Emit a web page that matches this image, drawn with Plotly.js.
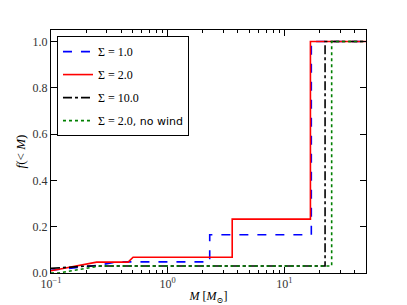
<!DOCTYPE html>
<html>
<head>
<meta charset="utf-8">
<script src="https://cdn.plot.ly/plotly-3.0.1.min.js"></script>
<style>html,body{margin:0;padding:0;background:#fff;}</style>
</head>
<body>
<div id="chart" style="width:407px;height:305px;"></div>
<script>
// Sigma = 1.0
const blueM = [0.1, 0.25, 0.37, 2.29, 2.29, 17.0, 17.0, 50];
const blueF = [0.012, 0.033, 0.048, 0.048, 0.165, 0.165, 1.0, 1.0];
// Sigma = 2.0
const redM = [0.1, 0.246, 0.458, 0.505, 3.57, 3.57, 16.7, 16.7, 50];
const redF = [0.01, 0.047, 0.047, 0.068, 0.068, 0.233, 0.233, 1.0, 1.0];
// Sigma = 10.0
const blackM = [0.1, 0.2, 22.3, 22.3, 50];
const blackF = [0.02, 0.03, 0.03, 1.0, 1.0];
// Sigma = 2.0, no wind
const greenM = [0.1, 0.115, 0.26, 25.4, 25.4, 50];
const greenF = [0.0, 0.0, 0.03, 0.03, 1.0, 1.0];

const xTickVals = [0.1, 1, 10];
const xTickText = ['10<sup>−1</sup>', '10<sup>0</sup>', '10<sup>1</sup>'];

const names = [
  'Σ = 1.0',
  'Σ = 2.0',
  'Σ = 10.0',
  'Σ = 2.0<span style="font-family:DejaVu Sans;font-size:11px">, no wind</span>'
];
const serif = 'Liberation Serif, DejaVu Serif, serif';

const traces = [
  {x: blueM, y: blueF, name: names[0], legendgroup: 'a', mode: 'lines', line: {color: '#0000ff', width: 1.6, dash: 'dash'}},
  {x: redM, y: redF, name: names[1], legendgroup: 'b', mode: 'lines', line: {color: '#ff0000', width: 1.6}},
  {x: blackM, y: blackF, name: names[2], legendgroup: 'c', mode: 'lines', line: {color: '#000000', width: 1.6, dash: 'dashdot'}},
  {x: greenM, y: greenF, name: names[3], legendgroup: 'd', mode: 'lines', line: {color: '#008000', width: 1.6, dash: 'dot'}}
];

const layout = {
  width: 407, height: 305,
  margin: {l: 51, r: 41, t: 30, b: 32},
  paper_bgcolor: '#fff', plot_bgcolor: '#fff',
  showlegend: true,
  font: {family: serif, size: 12, color: '#000'},
  xaxis: {
    type: 'log', range: [-1, Math.log10(50)],
    showgrid: false, zeroline: false,
    showline: true, linecolor: '#000', linewidth: 1, mirror: 'allticks',
    ticks: 'inside', ticklen: 6, tickcolor: '#000',
    tickmode: 'array', tickvals: xTickVals, ticktext: xTickText,
    minor: {ticks: 'inside', ticklen: 3, tickcolor: '#000', dtick: 'D1', showgrid: false},
    tickfont: {family: serif, size: 12, color: '#333'},
    title: {text: '<i>M</i> [<i>M</i><sub>⊙</sub>]', font: {family: serif, size: 12}, standoff: 2}
  },
  yaxis: {
    range: [0, 1.05],
    showgrid: false, zeroline: false,
    showline: true, linecolor: '#000', linewidth: 1, mirror: 'allticks',
    ticks: 'inside', ticklen: 6, tickcolor: '#000',
    tick0: 0, dtick: 0.2, tickformat: '.1f',
    tickfont: {family: serif, size: 12, color: '#333'},
    title: {text: '<i>f</i>(&lt; <i>M</i>)', font: {family: serif, size: 13}, standoff: 4}
  },
  legend: {
    x: 0.019, y: 0.975, xanchor: 'left', yanchor: 'top',
    bgcolor: '#fff', bordercolor: '#000', borderwidth: 1,
    font: {family: serif, size: 12},
    traceorder: 'grouped',
    tracegroupgap: 4,
    itemwidth: 30
  }
};

Plotly.newPlot('chart', traces, layout, {displayModeBar: false, staticPlot: true});
</script>
</body>
</html>
